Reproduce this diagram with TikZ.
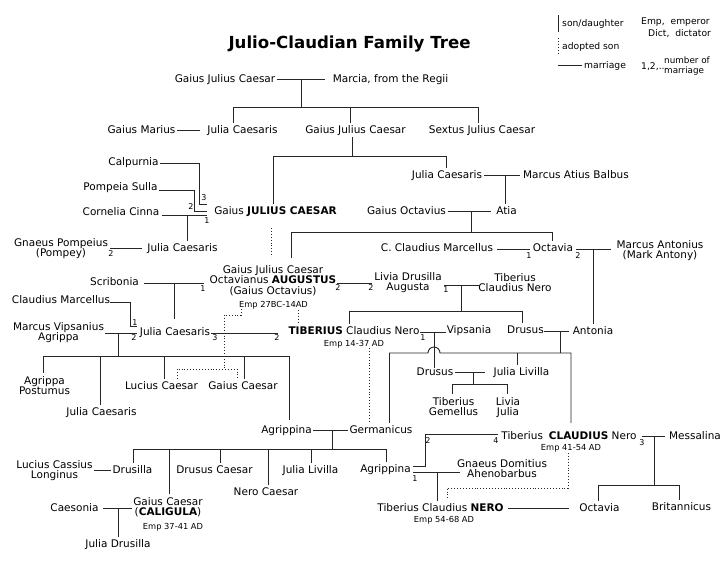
\documentclass[tikz,border=0pt]{standalone}
\usepackage{fontspec}
\setmainfont{DejaVu Sans}
\newcommand\nmf{\fontsize{10.5}{10.5}\selectfont}
\newcommand\smf{\fontsize{8.3}{9}\selectfont}
\newcommand\numf{\fontsize{8}{8}\selectfont}
\newcommand\legf{\fontsize{9.2}{10}\selectfont}
\newcommand\legsf{\fontsize{8.8}{10}\selectfont}
\tikzset{
 pp/.style={inner xsep=1.5pt, inner ysep=3pt, font=\nmf, text height=7.65pt, text depth=0pt},
 pm/.style={inner xsep=1.5pt, inner ysep=3pt, font=\nmf, align=center, anchor=north},
 emp/.style={inner sep=0pt, font=\smf, text height=6.05pt, text depth=0pt},
 num/.style={inner sep=0pt, font=\numf, text height=5.8pt, text depth=0pt},
 leg/.style={inner sep=0pt, font=\legf, text height=6.7pt, text depth=0pt, anchor=west},
 ln/.style={line width=0.9pt, draw=black!85},
 ad/.style={line width=0.9pt, draw=black!85, dotted},
}
\begin{document}
\begin{tikzpicture}[x=1pt,y=-1pt]
\path[fill=white] (0,0) rectangle (728,571);
\useasboundingbox (0,0) rectangle (728,571);

% title
\node[inner sep=0pt, font=\fontsize{16.6}{18}\selectfont\bfseries, text height=12.1pt, text depth=0pt] (title) at (349.5,42) {Julio-Claudian Family Tree};

% legend
\node[leg] (l1) at (562,23) {son/daughter};
\node[leg] (l2) at (562,46) {adopted son};
\node[leg] (l3) at (584,65) {marriage};
\node[leg] (l4) at (641,21) {Emp,\ \ emperor};
\node[leg] (l5) at (648,33) {Dict,\ \ dictator};
\node[leg] (l6) at (641,66) {1,2,...};
\node[inner sep=0pt, font=\legsf, align=left, anchor=west] (l7) at (664,66) {number of\\marriage};
\coordinate (lg1) at (558,15); \coordinate (lg2) at (558,32);
\coordinate (lg3) at (558,38); \coordinate (lg4) at (558,55);
\coordinate (lg5) at (558,65);
\draw[ln] (lg1) -- (lg2);
\draw[ad] (lg3) -- (lg4);
\draw[ln] (lg5) -- ([xshift=-2pt]l3.west);

% people
\node[pp] (gjc0) at (225,79) {Gaius Julius Caesar};
\node[pp] (marcia) at (390.5,79) {Marcia, from the Regii};
\node[pp] (marius) at (141.5,130) {Gaius Marius};
\node[pp] (julia1) at (242.5,130) {Julia Caesaris};
\node[pp] (gjc1) at (355.5,130) {Gaius Julius Caesar};
\node[pp] (sextus) at (482,130) {Sextus Julius Caesar};
\node[pp] (calp) at (133.5,162) {Calpurnia};
\node[pp] (pomps) at (120.5,187) {Pompeia Sulla};
\node[pp] (cinna) at (121,212) {Cornelia Cinna};
\node[pp] (caesar) at (275.5,211) {Gaius \textbf{JULIUS CAESAR}};
\node[pp] (julia2) at (182.5,248) {Julia Caesaris};
\node[pm] (pompey) at (61,234.9) {Gnaeus Pompeius\\(Pompey)};
\node[pp] (julia3) at (447,175) {Julia Caesaris};
\node[pp] (balbus) at (576,175) {Marcus Atius Balbus};
\node[pp] (goct) at (406.5,211) {Gaius Octavius};
\node[pp] (atia) at (506.5,211) {Atia};
\node[pp] (marc1) at (437,248) {C. Claudius Marcellus};
\node[pp] (octavia) at (553,248) {Octavia};
\node[pm] (antony) at (660,236.9) {Marcus Antonius\\(Mark Antony)};
\node[pm] (augustus) at (273,261.9) {Gaius Julius Caesar\\Octavianus \textbf{AUGUSTUS}\\(Gaius Octavius)};
\node[emp] (emp1) at (273.5,304) {Emp 27BC-14AD};
\node[pm] (livia) at (408,268.9) {Livia Drusilla\\Augusta};
\node[pm] (tcn) at (515,269.9) {Tiberius\\Claudius Nero};
\node[pp] (scrib) at (114.5,282) {Scribonia};
\node[pp] (marc2) at (61,300) {Claudius Marcellus};
\node[pm] (agrippa) at (58.5,318.9) {Marcus Vipsanius\\Agrippa};
\node[pp] (julia4) at (175,332) {Julia Caesaris};
\node[pp] (tiberius) at (354,331) {\textbf{TIBERIUS} Claudius Nero};
\node[emp] (emp2) at (354,343) {Emp 14-37 AD};
\node[pp] (vips) at (469,330) {Vipsania};
\node[pp] (drusus1) at (525.5,330) {Drusus};
\node[pp] (antonia) at (593,331) {Antonia};
\node[pm] (postumus) at (44.5,372.9) {Agrippa\\Postumus};
\node[pp] (julia5) at (101.5,412) {Julia Caesaris};
\node[pp] (lucius) at (161.5,386) {Lucius Caesar};
\node[pp] (gaius) at (243,386) {Gaius Caesar};
\node[pp] (drusus2) at (435,372) {Drusus};
\node[pp] (livilla1) at (521.5,372) {Julia Livilla};
\node[pm] (gemellus) at (453.5,393.9) {Tiberius\\Gemellus};
\node[pm] (liviaj) at (508,393.9) {Livia\\Julia};
\node[pp] (agr1) at (286.5,430) {Agrippina};
\node[pp] (germ) at (381,430) {Germanicus};
\node[pp] (claudius) at (569,436) {Tiberius\hspace{0.25em} \textbf{CLAUDIUS} Nero};
\node[emp] (emp3) at (571,447) {Emp 41-54 AD};
\node[pp] (messalina) at (695,436) {Messalina};
\node[pm] (cassius) at (54.5,456.9) {Lucius Cassius\\Longinus};
\node[pp] (drusilla) at (132.5,470) {Drusilla};
\node[pp] (drusc) at (214.5,470) {Drusus Caesar};
\node[pp] (neroc) at (266,492) {Nero Caesar};
\node[pp] (livilla2) at (310.5,470) {Julia Livilla};
\node[pp] (agr2) at (385.5,469) {Agrippina};
\node[pm] (gnaeus) at (502,455.9) {Gnaeus Domitius\\Ahenobarbus};
\node[pm] (caligula) at (168,493.9) {Gaius Caesar\\(\textbf{CALIGULA})};
\node[emp] (emp4) at (173,526) {Emp 37-41 AD};
\node[pp] (caesonia) at (74.5,508) {Caesonia};
\node[pp] (jdrus) at (118,544) {Julia Drusilla};
\node[pp] (nero) at (440.5,508) {Tiberius Claudius \textbf{NERO}};
\node[emp] (emp5) at (444,519) {Emp 54-68 AD};
\node[pp] (octavia2) at (599.5,508) {Octavia};
\node[pp] (brit) at (681.5,507) {Britannicus};

% marriage numbers
\node[num] (k1) at (204,198) {3};
\node[num] (k2) at (191,207) {2};
\node[num] (k3) at (207,221) {1};
\node[num] (k4) at (111,254) {2};
\node[num] (k5) at (203,289) {1};
\node[num] (k6) at (338,288) {2};
\node[num] (k7) at (371,288) {2};
\node[num] (k8) at (446,290) {1};
\node[num] (k9) at (529,256) {1};
\node[num] (k10) at (578,256) {2};
\node[num] (k11) at (135,323) {1};
\node[num] (k12) at (134,338) {2};
\node[num] (k13) at (215,338) {3};
\node[num] (k14) at (277,338) {2};
\node[num] (k15) at (423,338) {1};
\node[num] (k16) at (428,441) {2};
\node[num] (k17) at (496,441) {4};
\node[num] (k18) at (415,479) {1};
\node[num] (k19) at (642,443) {3};

% ---- generation 1
\draw[ln] (gjc0.east) -- ([xshift=-6.5pt]marcia.west);
\coordinate (m1) at (301,79); \coordinate (b1) at (301,107);
\coordinate (b1l) at (233,107); \coordinate (b1m) at (350,107); \coordinate (b1r) at (478,107);
\draw[ln] (m1) -- (b1);
\draw[ln] (b1l) -- (b1r);
\draw[ln] (b1l) -- (b1l |- julia1.north);
\draw[ln] (b1m) -- (b1m |- gjc1.north);
\draw[ln] (b1r) -- (b1r |- sextus.north);
\draw[ln] (marius.east) -- ([xshift=-5.5pt]julia1.west);

% ---- children of Gaius Julius Caesar (father)
\coordinate (c2) at (352,156); \coordinate (b2l) at (273,156); \coordinate (b2r) at (446,156);
\draw[ln] (c2 |- gjc1.south) -- (c2);
\draw[ln] (b2l) -- (b2r);
\draw[ln] (b2l) -- (b2l |- caesar.north);
\draw[ln] (b2r) -- (b2r |- julia3.north);

% ---- marriages of Julius Caesar
\coordinate (cp) at (199,163); \coordinate (cz1) at (207,204);
\coordinate (ps) at (194,190); \coordinate (cz2) at (207,211);
\coordinate (cn0) at (162,215); \coordinate (cz3) at (207,215);
\coordinate (cn) at (187,215);
\draw[ln] (calp.east |- cp) -- (cp) |- (cz1);
\draw[ln] (pomps.east |- ps) -- (ps) |- (cz2);
\draw[ln] (cn0) -- (cz3);
\draw[ln] (cn) -- (cn |- julia2.north);
\draw[ln] (pompey.east |- julia2.west) -- ([xshift=-3.5pt]julia2.west);

% ---- Julia Caesaris & Balbus
\draw[ln] (julia3.east) -- ([xshift=-1.5pt]balbus.west);
\coordinate (jb) at (505,175);
\draw[ln] (jb) -- (jb |- atia.north);

% ---- Gaius Octavius & Atia
\draw[ln] (goct.east) -- ([xshift=-3.5pt]atia.west);
\coordinate (ga) at (471,211); \coordinate (b3) at (471,232);
\coordinate (b3l) at (291,232); \coordinate (b3r) at (552,232);
\coordinate (b3a) at (291,258);
\draw[ln] (ga) -- (b3);
\draw[ln] (b3a) -- (b3l) -- (b3r);
\draw[ln] (b3r) -- (b3r |- octavia.north);

% ---- Octavia marriages
\coordinate (mo1) at (497,249); \coordinate (mo2) at (530,249);
\coordinate (mo3) at (576,249); \coordinate (mo4) at (611,249);
\coordinate (oa) at (593,249);
\draw[ln] (mo1) -- (mo2);
\draw[ln] (mo3) -- (mo4);
\draw[ln] (oa) -- (oa |- antonia.north);

% ---- Augustus marriages
\coordinate (sa0) at (144,283); \coordinate (sa1) at (204,283);
\coordinate (sd) at (174,283); \coordinate (sd2) at (174,319);
\draw[ln] (sa0) -- (sa1);
\draw[ln] (sd) -- (sd2);
\coordinate (al0) at (337,283); \coordinate (al1) at (372,283);
\draw[ln] (al0) -- (al1);

% ---- Livia & Tiberius Claudius Nero
\coordinate (lt0) at (444,285); \coordinate (lt1) at (479,285);
\coordinate (lt) at (461,285); \coordinate (b4) at (461,311);
\coordinate (b4l) at (349,311); \coordinate (b4r) at (522,311);
\draw[ln] (lt0) -- (lt1);
\draw[ln] (lt) -- (b4);
\draw[ln] (b4l) -- (b4r);
\draw[ln] (b4l) -- (b4l |- tiberius.north);
\draw[ln] (b4r) -- (b4r |- drusus1.north);

% ---- Julia Caesaris (daughter of Augustus) marriages
\coordinate (jm0) at (110,302); \coordinate (jm1) at (130,302); \coordinate (jm2) at (137,326);
\draw[ln] (jm0) -- (jm1) |- (jm2);
\coordinate (ja0) at (105,333); \coordinate (ja1) at (137,333);
\draw[ln] (ja0) -- (ja1);
\coordinate (ja) at (118,333); \coordinate (b5) at (118,356);
\coordinate (b5l) at (43,356); \coordinate (b5r) at (289,356);
\coordinate (b5b) at (100,356); \coordinate (b5c) at (164,356); \coordinate (b5d) at (244,356);
\coordinate (b5e) at (289,420);
\draw[ln] (ja) -- (b5);
\draw[ln] (b5l) -- (b5r) -- (b5e);
\draw[ln] (b5l) -- (b5l |- postumus.north);
\draw[ln] (b5b) -- (b5b |- julia5.north);
\draw[ln] (b5c) -- (b5c |- lucius.north);
\draw[ln] (b5d) -- (b5d |- gaius.north);
\coordinate (jt0) at (211,333); \coordinate (jt1) at (278,333);
\draw[ln] (jt0) -- (jt1);

% ---- Tiberius & Vipsania
\coordinate (tv0) at (420,332); \coordinate (tv1) at (446,332);
\coordinate (tv) at (434,332); \coordinate (tv2) at (434,368);
\draw[ln] (tv0) -- (tv1);
\draw[ln] (tv) -- (tv2);

% ---- Drusus & Antonia
\coordinate (da0) at (544,331); \coordinate (da1) at (569,331);
\coordinate (da) at (560,331); \coordinate (b6) at (560,353);
\coordinate (b6l) at (389,353); \coordinate (h0) at (428,353);
\coordinate (b6r) at (571,353); \coordinate (b6e) at (571,423);
\coordinate (b6m) at (517,353);
\draw[ln] (da0) -- (da1);
\draw[ln] (da) -- (b6);
\draw[ln] (b6l) -- (h0) arc[start angle=180, end angle=360, radius=6] -- (b6r) -- (b6e);
\draw[ln] (b6l) -- (b6l |- germ.north);
\draw[ln] (b6m) -- (b6m |- livilla1.north);

% ---- Drusus & Julia Livilla
\draw[ln] (drusus2.east) -- ([xshift=-7.5pt]livilla1.west);
\coordinate (dl) at (473,372); \coordinate (b7) at (473,384);
\coordinate (b7l) at (452,384); \coordinate (b7r) at (507,384);
\draw[ln] (dl) -- (b7);
\draw[ln] (b7l) -- (b7r);
\draw[ln] (b7l) -- (b7l |- gemellus.north);
\draw[ln] (b7r) -- (b7r |- liviaj.north);

% ---- Agrippina & Germanicus
\draw[ln] (agr1.east) -- (germ.west);
\coordinate (ag) at (332,430); \coordinate (b8) at (332,449);
\coordinate (b8l) at (133,449); \coordinate (b8r) at (386,449);
\coordinate (b8b) at (169,449); \coordinate (b8c) at (220,449);
\coordinate (b8d) at (268,449); \coordinate (b8e) at (311,449);
\draw[ln] (ag) -- (b8);
\draw[ln] (b8l) -- (b8r);
\draw[ln] (b8l) -- (b8l |- drusilla.north);
\draw[ln] (b8b) -- (b8b |- caligula.north);
\draw[ln] (b8c) -- (b8c |- drusc.north);
\draw[ln] (b8d) -- (b8d |- neroc.north);
\draw[ln] (b8e) -- (b8e |- livilla2.north);
\draw[ln] (b8r) -- (b8r |- agr2.north);

\draw[ln] (cassius.east |- drusilla.west) -- (drusilla.west);
\draw[ln] ([xshift=2.5pt]caesonia.east) -- (caesonia.east -| caligula.west);
\coordinate (cc) at (118,508);
\draw[ln] (cc) -- (cc |- jdrus.north);

% ---- Agrippina the younger
\coordinate (ac0) at (413,466); \coordinate (ac1) at (425,466);
\coordinate (ac2) at (498,434);
\draw[ln] (ac0) -- (ac1) |- (ac2);
\coordinate (ad0) at (413,472); \coordinate (ad1) at (460,472);
\coordinate (adm) at (437,472);
\draw[ln] (ad0) -- (ad1);
\draw[ln] (adm) -- (adm |- nero.north);
\draw[ln] ([xshift=2.5pt]nero.east) -- ([xshift=-8.5pt]octavia2.west);

% ---- Claudius & Messalina
\draw[ln] ([xshift=3.5pt]claudius.east) -- ([xshift=-2.5pt]messalina.west);
\coordinate (cm) at (654,436); \coordinate (b9) at (654,485);
\coordinate (b9l) at (598,485); \coordinate (b9r) at (679,485);
\draw[ln] (cm) -- (b9);
\draw[ln] (b9l) -- (b9r);
\draw[ln] (b9l) -- (b9l |- octavia2.north);
\draw[ln] (b9r) -- (b9r |- brit.north);

% ---- adoptions (dotted)
\coordinate (x1) at (271,228); \coordinate (x2) at (271,257);
\draw[ad] (x1) -- (x2);
\coordinate (y1) at (241,309); \coordinate (y2) at (224,315); \coordinate (y3) at (224,369);
\coordinate (y4) at (177,369); \coordinate (y5) at (237,369);
\draw[ad] (y1) |- (y2) -- (y3);
\draw[ad] (y4 |- lucius.north) -- (y4) -- (y5) -- (y5 |- gaius.north);
\coordinate (z1) at (298,310); \coordinate (z2) at (298,324);
\draw[ad] (z1) -- (z2);
\coordinate (w1) at (369,348); \coordinate (w2) at (369,422);
\draw[ad] (w1) -- (w2);
\coordinate (v1) at (568,453); \coordinate (v2) at (447,488); \coordinate (v3) at (447,500);
\draw[ad] (v1) |- (v2) -- (v3);
\end{tikzpicture}
\end{document}
